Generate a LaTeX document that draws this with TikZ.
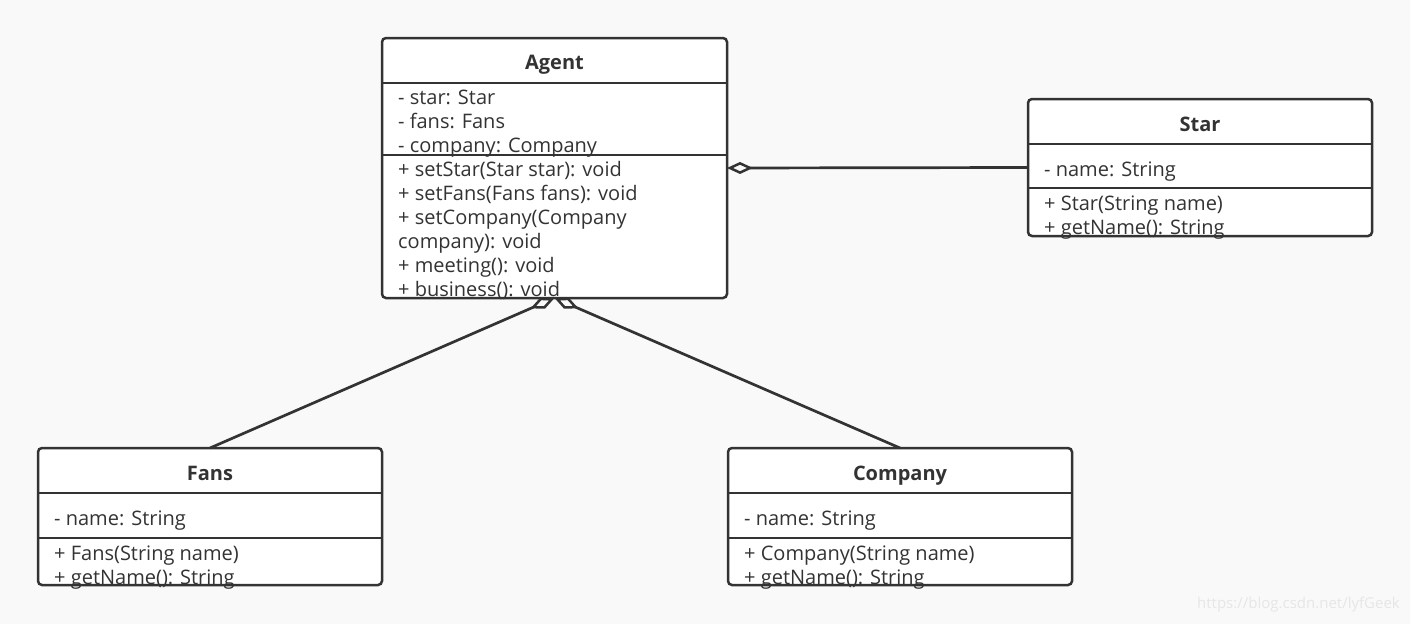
\documentclass[tikz,border=0pt]{standalone}
\usepackage{fontspec}
\setmainfont{Open Sans}
\usetikzlibrary{arrows.meta}
\definecolor{bg}{HTML}{F9F9F9}
\definecolor{ink}{HTML}{333333}
\definecolor{wm}{HTML}{E6E6E6}
\begin{document}
\begin{tikzpicture}[x=1pt,y=-1pt,
  classbox/.style={draw=ink, fill=white, line width=2.5pt, rounded corners=4pt, inner sep=0pt, outer sep=0pt},
  sep/.style={draw=ink, line width=2.5pt},
  title/.style={font=\fontsize{20}{22}\selectfont\bfseries, text=ink, inner sep=0pt, anchor=base},
  member/.style={font=\fontsize{20}{22}\selectfont, text=ink, anchor=base west, inner sep=0pt},
  agg/.style={draw=ink, line width=2.7pt, -{Diamond[open, length=26pt, width=12pt, line width=2.5pt]}}]
\fill[bg] (0,0) rectangle (1410,624);
\useasboundingbox (0,0) rectangle (1410,624);

% Agent
\node[classbox, minimum width=345pt, minimum height=260pt] (agent) at (554.5,168) {};
\draw[sep] (agent.west |- 0,83) -- (agent.east |- 0,83);
\draw[sep] (agent.west |- 0,155) -- (agent.east |- 0,155);
\node[title] (agentT) at (554.5,69.5) {Agent};
\node[member] (a1) at (398,104.5) {- star: Star};
\node[member] (a2) at (398,128.5) {- fans: Fans};
\node[member] (a3) at (398,152.5) {- company: Company};
\node[member] (a4) at (398,176.5) {+ setStar(Star star): void};
\node[member] (a5) at (398,200.5) {+ setFans(Fans fans): void};
\node[member] (a6) at (398,224.5) {+ setCompany(Company};
\node[member] (a7) at (398,248.5) {company): void};
\node[member] (a8) at (398,272.5) {+ meeting(): void};
\node[member] (a9) at (398,296.5) {+ business(): void};

% Star
\node[classbox, minimum width=344pt, minimum height=137pt] (star) at (1200,167.5) {};
\draw[sep] (star.west |- 0,144) -- (star.east |- 0,144);
\draw[sep] (star.west |- 0,188) -- (star.east |- 0,188);
\node[title] (starT) at (1200,131.5) {Star};
\node[member] (s1) at (1044,176.5) {- name: String};
\node[member] (s2) at (1044,210.5) {+ Star(String name)};
\node[member] (s3) at (1044,234.5) {+ getName(): String};

% Fans
\node[classbox, minimum width=344pt, minimum height=137pt] (fans) at (210,516.5) {};
\draw[sep] (fans.west |- 0,493) -- (fans.east |- 0,493);
\draw[sep] (fans.west |- 0,538) -- (fans.east |- 0,538);
\node[title] (fansT) at (210,480.5) {Fans};
\node[member] (f1) at (54,525.5) {- name: String};
\node[member] (f2) at (54,560.5) {+ Fans(String name)};
\node[member] (f3) at (54,584.5) {+ getName(): String};

% Company
\node[classbox, minimum width=344pt, minimum height=137pt] (company) at (900,516.5) {};
\draw[sep] (company.west |- 0,493) -- (company.east |- 0,493);
\draw[sep] (company.west |- 0,538) -- (company.east |- 0,538);
\node[title] (companyT) at (900,480.5) {Company};
\node[member] (c1) at (744,525.5) {- name: String};
\node[member] (c2) at (744,560.5) {+ Company(String name)};
\node[member] (c3) at (744,584.5) {+ getName(): String};

% connectors
\draw[agg] (star.west) -- (agent.east);
\draw[agg] (fans.north) -- (agent.south);
\draw[agg] (company.north) -- (agent.south);

% watermark
\node[font=\fontsize{15}{17}\selectfont, text=wm, anchor=east, inner sep=0pt] (wmark) at (1400,605) {https://blog.csdn.net/lyfGeek};
\end{tikzpicture}
\end{document}
